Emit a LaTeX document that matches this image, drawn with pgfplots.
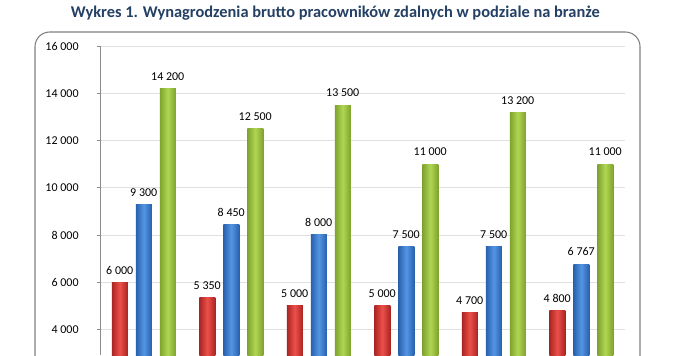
\documentclass[border=0pt]{standalone}
\usepackage{pgfplots}
\pgfplotsset{compat=1.18}
\usepackage{fontspec}
\setmainfont{Carlito}
\definecolor{titleblue}{RGB}{36,64,100}
\definecolor{redE}{RGB}{170,36,34}
\definecolor{redM}{RGB}{236,80,74}
\definecolor{blueE}{RGB}{40,96,172}
\definecolor{blueM}{RGB}{84,150,228}
\definecolor{greenE}{RGB}{126,162,44}
\definecolor{greenM}{RGB}{176,214,84}
\pgfplotsset{
  redbar/.style={draw=none, left color=redE, right color=redE, middle color=redM, bar shift=-18pt},
  bluebar/.style={draw=none, left color=blueE, right color=blueE, middle color=blueM, bar shift=0pt},
  greenbar/.style={draw=none, left color=greenE, right color=greenE, middle color=greenM, bar shift=18pt},
}
\begin{document}
\begin{tikzpicture}
\useasboundingbox (0,0) rectangle (505.5pt,266.25pt);
\clip (0,0) rectangle (505.5pt,266.25pt);
\fill[white] (0,0) rectangle (505.5pt,266.25pt);
\draw[color=black!50, line width=0.8pt, rounded corners=11pt] (26.25pt,-30pt) rectangle (480pt,242.25pt);
\node[font=\bfseries\fontsize{12.3}{14}\selectfont, text=titleblue] at (251.5pt,256.5pt) {Wykres 1. Wynagrodzenia brutto pracowników zdalnych w podziale na branże};
\begin{axis}[
  at={(75pt,0pt)}, anchor=south west,
  scale only axis, width=393.75pt, height=231.75pt,
  xmin=-0.5, xmax=5.5, ymin=2920, ymax=16000,
  ybar, bar width=12pt,
  axis x line=none, axis y line*=left,
  y axis line style={color=black!45, line width=0.6pt},
  ytick={4000,6000,8000,10000,12000,14000,16000},
  scaled y ticks=false,
  ymajorgrids, major grid style={color=black!12, line width=0.5pt},
  tick align=outside, major tick length=2.5pt,
  tick style={color=black!45, line width=0.6pt},
  /pgf/number format/.cd, 1000 sep={\ }, fixed, assume math mode=true,
  /pgfplots/.cd,
  yticklabel style={font=\fontsize{9}{10}\selectfont, xshift=-10pt},
  nodes near coords,
  every node near coord/.append style={font=\fontsize{9}{10}\selectfont, text=black, yshift=2.5pt},
  clip=true,
]
% series 1 (red)
\addplot[redbar] coordinates {(0,6000)};
\addplot[redbar] coordinates {(1,5350)};
\addplot[redbar] coordinates {(2,5000)};
\addplot[redbar] coordinates {(3,5000)};
\addplot[redbar] coordinates {(4,4700)};
\addplot[redbar] coordinates {(5,4800)};
% series 2 (blue)
\addplot[bluebar] coordinates {(0,9300)};
\addplot[bluebar] coordinates {(1,8450)};
\addplot[bluebar] coordinates {(2,8000)};
\addplot[bluebar] coordinates {(3,7500)};
\addplot[bluebar] coordinates {(4,7500)};
\addplot[bluebar] coordinates {(5,6767)};
% series 3 (green)
\addplot[greenbar] coordinates {(0,14200)};
\addplot[greenbar] coordinates {(1,12500)};
\addplot[greenbar] coordinates {(2,13500)};
\addplot[greenbar] coordinates {(3,11000)};
\addplot[greenbar] coordinates {(4,13200)};
\addplot[greenbar] coordinates {(5,11000)};
\end{axis}
\end{tikzpicture}
\end{document}
